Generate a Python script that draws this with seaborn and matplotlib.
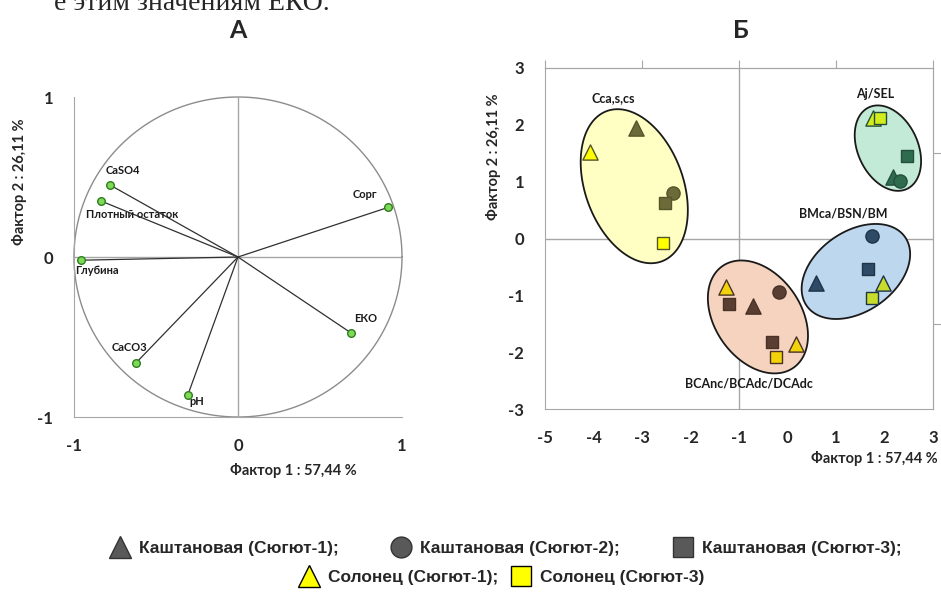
import numpy as np
import pandas as pd
import matplotlib
matplotlib.use('Agg')
import matplotlib.pyplot as plt
import seaborn as sns
from matplotlib.lines import Line2D

# Panel A - factor loadings
vars_a = ['CaSO4', 'Плотный остаток', 'Сорг', 'Глубина', 'ЕКО', 'CaCO3', 'pH']
load_f1 = [-0.78, -0.835, 0.915, -0.957, 0.69, -0.62, -0.305]
load_f2 = [0.45, 0.35, 0.31, -0.02, -0.475, -0.66, -0.86]

# Panel B - factor scores by soil type
groups = ['Cca,s,cs', 'Aj/SEL', 'BMca/BSN/BM', 'BCAnc/BCAdc/DCAdc']
soils = ['Каштановая (Сюгют-1)', 'Каштановая (Сюгют-2)', 'Каштановая (Сюгют-3)',
         'Солонец (Сюгют-1)', 'Солонец (Сюгют-3)']

kasht1_grp = ['Cca,s,cs', 'Aj/SEL', 'BMca/BSN/BM', 'BCAnc/BCAdc/DCAdc']
kasht1_f1 = [-3.12, 2.18, 0.59, -0.71]
kasht1_f2 = [1.94, 1.08, -0.78, -1.18]

kasht2_grp = ['Cca,s,cs', 'Aj/SEL', 'BMca/BSN/BM', 'BCAnc/BCAdc/DCAdc']
kasht2_f1 = [-2.36, 2.32, 1.74, -0.18]
kasht2_f2 = [0.80, 1.02, 0.05, -0.95]

kasht3_grp = ['Cca,s,cs', 'Aj/SEL', 'BMca/BSN/BM', 'BCAnc/BCAdc/DCAdc', 'BCAnc/BCAdc/DCAdc']
kasht3_f1 = [-2.53, 2.46, 1.66, -1.21, -0.32]
kasht3_f2 = [0.62, 1.46, -0.53, -1.15, -1.82]

solon1_grp = ['Cca,s,cs', 'Aj/SEL', 'BMca/BSN/BM', 'BCAnc/BCAdc/DCAdc', 'BCAnc/BCAdc/DCAdc']
solon1_f1 = [-4.07, 1.76, 1.97, -1.27, 0.18]
solon1_f2 = [1.53, 2.12, -0.78, -0.85, -1.85]

solon3_grp = ['Cca,s,cs', 'Aj/SEL', 'BMca/BSN/BM', 'BCAnc/BCAdc/DCAdc']
solon3_f1 = [-2.57, 1.91, 1.74, -0.24]
solon3_f2 = [-0.08, 2.12, -1.04, -2.09]

scores = pd.concat([
    pd.DataFrame({'F1': f1, 'F2': f2, 'group': g, 'soil': s})
    for f1, f2, g, s in [
        (kasht1_f1, kasht1_f2, kasht1_grp, soils[0]),
        (kasht2_f1, kasht2_f2, kasht2_grp, soils[1]),
        (kasht3_f1, kasht3_f2, kasht3_grp, soils[2]),
        (solon1_f1, solon1_f2, solon1_grp, soils[3]),
        (solon3_f1, solon3_f2, solon3_grp, soils[4]),
    ]
], ignore_index=True)

# styles
grid_c = '#a6a6a6'
dark_c = {'Cca,s,cs': '#6b6b3a', 'Aj/SEL': '#2f6b4f', 'BMca/BSN/BM': '#2d4b66', 'BCAnc/BCAdc/DCAdc': '#5a3e32'}
light_c = {'Cca,s,cs': '#ffff00', 'Aj/SEL': '#d4ec1c', 'BMca/BSN/BM': '#c8dc2c', 'BCAnc/BCAdc/DCAdc': '#f2d20a'}
edge_c = {'Cca,s,cs': '#55552a', 'Aj/SEL': '#244f3b', 'BMca/BSN/BM': '#1f3447', 'BCAnc/BCAdc/DCAdc': '#4a3226'}
fill_c = {'Cca,s,cs': '#ffffc4', 'Aj/SEL': '#c2ead6', 'BMca/BSN/BM': '#bdd7ee', 'BCAnc/BCAdc/DCAdc': '#f5d3bf'}
soil_marker = {soils[0]: '^', soils[1]: 'o', soils[2]: 's', soils[3]: '^', soils[4]: 's'}
soil_size = {'^': 120, 'o': 90, 's': 85}
soil_light = {soils[0]: False, soils[1]: False, soils[2]: False, soils[3]: True, soils[4]: True}

sns.set_style('white')
plt.rcParams['font.family'] = ['Lato', 'DejaVu Sans']
plt.rcParams['font.weight'] = 'bold'
plt.rcParams['axes.labelweight'] = 'bold'
plt.rcParams['axes.unicode_minus'] = False

fig = plt.figure(figsize=(9.41, 5.97), dpi=100)
axA = fig.add_axes([0.0786, 0.3015, 0.3486, 0.536])
axB = fig.add_axes([0.5792, 0.3149, 0.4123, 0.5712])

# partially cut line of document text at the very top
fig.text(330 / 941, 1 - 10 / 597, 'е этим значениям ЕКО.', ha='right', va='baseline',
         family=['Liberation Serif', 'DejaVu Serif'], fontsize=20, fontweight='normal')

# panel letters
fig.text(238 / 941, 1 - 31 / 597, 'А', ha='center', va='center', fontsize=18, fontweight='bold')
fig.text(741 / 941, 1 - 31 / 597, 'Б', ha='center', va='center', fontsize=18, fontweight='bold')

# ---- Panel A ----
t = np.linspace(0, 2 * np.pi, 400)
axA.plot(np.cos(t), np.sin(t), color='#8c8c8c', lw=1, clip_on=False, zorder=1)
axA.axhline(0, color=grid_c, lw=1, zorder=1)
axA.axvline(0, color=grid_c, lw=1, zorder=1)
for x, y in zip(load_f1, load_f2):
    axA.plot([0, x], [0, y], color='#303030', lw=0.9, zorder=2)
sns.scatterplot(x=load_f1, y=load_f2, ax=axA, color='#7ed957', edgecolor='#2e7d1e',
                linewidth=1, s=30, zorder=5, clip_on=False, legend=False)
lab_off = {'CaSO4': (-4, 15, 'left'), 'Плотный остаток': (-15, -13, 'left'),
           'Сорг': (-23, 13, 'center'), 'Глубина': (-6, -10, 'left'),
           'ЕКО': (14, 15, 'center'), 'CaCO3': (-7, 15, 'center'), 'pH': (1, -7, 'left')}
for name, x, y in zip(vars_a, load_f1, load_f2):
    dx, dy, ha = lab_off[name]
    axA.annotate(name, (x, y), xytext=(dx, dy), textcoords='offset pixels', ha=ha, va='center',
                 fontsize=8, fontweight='bold', color='#1a1a1a')
axA.set_xlim(-1, 1)
axA.set_ylim(-1, 1)
axA.set_xticks([-1, 0, 1])
axA.set_yticks([-1, 0, 1])
for sp in ['top', 'right']:
    axA.spines[sp].set_visible(False)
for sp in ['left', 'bottom']:
    axA.spines[sp].set_color(grid_c)
axA.tick_params(direction='out', length=6, color=grid_c, labelsize=12, pad=9)
axA.set_xlabel('Фактор 1 : 57,44 %', fontsize=10.5)
axA.set_ylabel('Фактор 2 : 26,11 %', fontsize=10.5)
axA.xaxis.set_label_coords(0.668, -0.166)
axA.xaxis.label.set_va('center')
axA.yaxis.set_label_coords(-0.165, 0.734)
axA.yaxis.label.set_va('center')

# ---- Panel B ----
sx = 0.4123 * 941 / 8
sy = 0.5712 * 597 / 6
ell = {'Cca,s,cs': (-3.16, 0.92, 80, 49, 110), 'Aj/SEL': (2.07, 1.59, 45, 30, 115),
       'BMca/BSN/BM': (1.41, -0.58, 60, 40, 35), 'BCAnc/BCAdc/DCAdc': (-0.61, -1.38, 62, 43, 125)}
grp_lab = {'Cca,s,cs': (-3.6, 2.47), 'Aj/SEL': (1.8, 2.54),
           'BMca/BSN/BM': (1.14, 0.44), 'BCAnc/BCAdc/DCAdc': (-0.79, -2.56)}

axB.axvline(-1, color=grid_c, lw=1, zorder=0)
axB.axhline(0, color=grid_c, lw=1, zorder=0)
for g in groups:
    cx, cy, a, b, ang = ell[g]
    th = np.deg2rad(ang)
    ex = cx + (a * np.cos(t) * np.cos(th) - b * np.sin(t) * np.sin(th)) / sx
    ey = cy + (a * np.cos(t) * np.sin(th) + b * np.sin(t) * np.cos(th)) / sy
    axB.fill(ex, ey, facecolor=fill_c[g], edgecolor='#1a1a1a', lw=1.3, zorder=2)
    axB.text(*grp_lab[g], g, ha='center', va='center', fontsize=9, fontweight='bold', color='#1a1a1a')

for (g, s), sub in scores.groupby(['group', 'soil'], sort=False):
    m = soil_marker[s]
    col = light_c[g] if soil_light[s] else dark_c[g]
    sns.scatterplot(data=sub, x='F1', y='F2', ax=axB, marker=m, s=soil_size[m], color=col,
                    edgecolor=edge_c[g], linewidth=1, zorder=4, legend=False)

axB.set_xlim(-5, 3)
axB.set_ylim(-3, 3)
axB.set_xticks(range(-5, 4))
axB.set_yticks(range(-3, 4))
for sp in axB.spines.values():
    sp.set_color(grid_c)
axB.tick_params(direction='out', length=6, color=grid_c, labelsize=12, pad=9)
top = axB.secondary_xaxis('top')
top.set_xticks([-5, -3, -1, 1, 3])
top.set_xticklabels([])
top.tick_params(direction='out', length=6, color=grid_c)
top.spines['top'].set_color(grid_c)
right = axB.secondary_yaxis('right')
right.set_yticks([-1.5, 1.5])
right.set_yticklabels([])
right.tick_params(direction='out', length=6, color=grid_c)
right.spines['right'].set_color(grid_c)
axB.set_xlabel('Фактор 1 : 57,44 %', fontsize=10.5)
axB.set_ylabel('Фактор 2 : 26,11 %', fontsize=10.5)
axB.xaxis.set_label_coords(1.013, -0.144)
axB.xaxis.label.set_ha('right')
axB.xaxis.label.set_va('center')
axB.yaxis.set_label_coords(-0.134, 0.739)
axB.yaxis.label.set_va('center')

# ---- legend ----
leg_font = dict(family=['Liberation Sans Narrow', 'Liberation Sans'], weight='bold', size=12.5)
h_row1 = [Line2D([], [], ls='', marker='^', ms=16, mfc='#595959', mec='#333333'),
          Line2D([], [], ls='', marker='o', ms=15, mfc='#595959', mec='#333333'),
          Line2D([], [], ls='', marker='s', ms=15, mfc='#595959', mec='#333333')]
h_row2 = [Line2D([], [], ls='', marker='^', ms=16, mfc='#ffff00', mec='#000000'),
          Line2D([], [], ls='', marker='s', ms=15, mfc='#ffff00', mec='#000000')]
fig.legend(h_row1, [s + ';' for s in soils[:3]], loc='center', bbox_to_anchor=(0.537, 0.082),
           ncol=3, frameon=False, prop=leg_font, handletextpad=0.5, columnspacing=3.0, handlelength=1.2)
fig.legend(h_row2, [soils[3] + ';', soils[4]], loc='center', bbox_to_anchor=(0.533, 0.032),
           ncol=2, frameon=False, prop=leg_font, handletextpad=0.5, columnspacing=0.7, handlelength=1.2)

fig.savefig('out.png', dpi=100)
